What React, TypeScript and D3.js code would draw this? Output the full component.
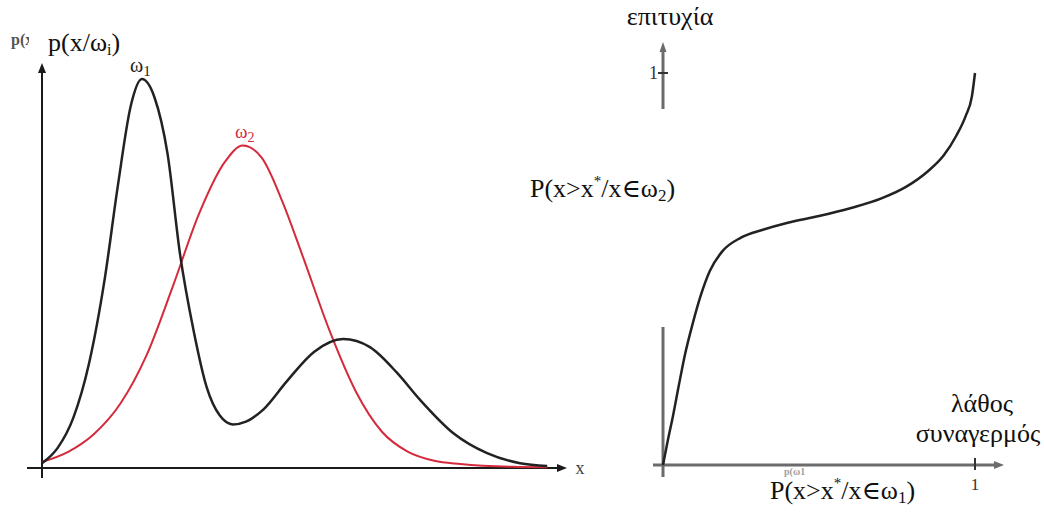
import React from "react";
import * as d3 from "d3";

// Class-conditional densities p(x/ω1) and p(x/ω2), sampled along x (0..10)
const omega1X = [0, 0.3, 0.6, 0.9, 1.2, 1.45, 1.7, 1.91, 2.15, 2.4, 2.64, 2.9, 3.15, 3.4, 3.65, 3.9, 4.23, 4.68, 5.2, 5.76, 6.27, 6.79, 7.23, 7.86, 8.51, 9.14, 9.66];
const omega1Y = [0.012, 0.05, 0.125, 0.26, 0.47, 0.7, 0.9, 0.965, 0.92, 0.78, 0.53, 0.34, 0.2, 0.13, 0.108, 0.115, 0.145, 0.215, 0.288, 0.32, 0.3, 0.236, 0.169, 0.087, 0.037, 0.012, 0.005];

const omega2X = [0, 0.5, 1, 1.5, 2, 2.5, 3, 3.5, 3.84, 4.2, 4.6, 5, 5.5, 6, 6.5, 7, 7.5, 8, 9, 9.66];
const omega2Y = [0.015, 0.04, 0.085, 0.16, 0.28, 0.45, 0.63, 0.76, 0.8, 0.77, 0.66, 0.52, 0.34, 0.19, 0.09, 0.04, 0.018, 0.01, 0.003, 0.002];

// ROC curve: false alarm rate vs hit rate
const rocFalseAlarm = [0, 0.016, 0.032, 0.05, 0.07, 0.095, 0.12, 0.15, 0.19, 0.25, 0.32, 0.4, 0.5, 0.6, 0.7, 0.78, 0.85, 0.9, 0.94, 0.97, 0.99, 1];
const rocHit = [0, 0.065, 0.125, 0.2, 0.28, 0.36, 0.43, 0.495, 0.545, 0.58, 0.6, 0.618, 0.635, 0.655, 0.68, 0.71, 0.75, 0.79, 0.84, 0.89, 0.94, 1];

const rocTicks = [1];

const SERIF = "'Liberation Serif', 'DejaVu Serif', serif";

export default function App() {
  // Left panel scales
  const xL = d3.scaleLinear().domain([0, 10]).range([42, 565]);
  const yL = d3.scaleLinear().domain([0, 1]).range([468, 65]);
  // Right panel scales
  const xR = d3.scaleLinear().domain([0, 1]).range([663, 975]);
  const yR = d3.scaleLinear().domain([0, 1]).range([465, 73]);

  const lineL = d3
    .line<[number, number]>()
    .x((d) => xL(d[0]))
    .y((d) => yL(d[1]))
    .curve(d3.curveMonotoneX);

  const lineR = d3
    .line<[number, number]>()
    .x((d) => xR(d[0]))
    .y((d) => yR(d[1]))
    .curve(d3.curveMonotoneX);

  const w1 = omega1X.map((x, i) => [x, omega1Y[i]] as [number, number]);
  const w2 = omega2X.map((x, i) => [x, omega2Y[i]] as [number, number]);
  const roc = rocFalseAlarm.map((x, i) => [x, rocHit[i]] as [number, number]);

  const axisL = "#1a1a1a";
  const axisR = "#6b6b6b";

  return (
    <svg
      width={1044}
      height={513}
      style={{ position: "fixed", left: 0, top: 0, background: "#fff" }}
      fontFamily={SERIF}
    >
      <rect x={0} y={0} width={1044} height={513} fill="#fff" />

      {/* ---------- Left panel: densities ---------- */}
      <text x={11} y={45} fontSize={16} fontWeight="bold" fill="#555">p(x/ω</text>
      <rect x={29} y={27} width={98} height={36} fill="#fff" />
      <text x={48} y={51} fontSize={26} fill="#111">
        p(x/ω<tspan fontSize={16} dy={4}>i</tspan><tspan dy={-4}>)</tspan>
      </text>

      {/* axes */}
      <line x1={xL(0)} y1={478} x2={xL(0)} y2={yL(1) + 6} stroke={axisL} strokeWidth={2} />
      <path d={`M${xL(0)},${yL(1) - 2} l-4,10 l8,0 z`} fill={axisL} />
      <line x1={27} y1={yL(0)} x2={xL(10) - 6} y2={yL(0)} stroke={axisL} strokeWidth={2} />
      <path d={`M${xL(10) + 2},${yL(0)} l-10,-4 l0,8 z`} fill={axisL} />
      <text x={580} y={474} fontSize={18} fill="#444" textAnchor="middle">x</text>

      {/* curves */}
      <path d={lineL(w2) ?? ""} fill="none" stroke="#d42a3c" strokeWidth={2} />
      <path d={lineL(w1) ?? ""} fill="none" stroke="#222" strokeWidth={2.5} />

      <text x={130} y={72} fontSize={20} fill="#222">
        ω<tspan fontSize={15} dy={4}>1</tspan>
      </text>
      <text x={235} y={138} fontSize={19} fill="#d42a3c">
        ω<tspan fontSize={14} dy={4}>2</tspan>
      </text>

      {/* ---------- Right panel: ROC ---------- */}
      <text x={670} y={25} fontSize={26} fill="#111" textAnchor="middle">επιτυχία</text>

      {/* upper y-axis fragment with tick at 1 */}
      <line x1={xR(0)} y1={109} x2={xR(0)} y2={50} stroke={axisR} strokeWidth={3} />
      <path d={`M${xR(0)},${42} l-3.5,10 l7,0 z`} fill={axisR} />
      {rocTicks.map((t) => (
        <g key={`yt${t}`}>
          <line x1={xR(0) - 5} x2={xR(0) + 5} y1={yR(t)} y2={yR(t)} stroke="#333" strokeWidth={2} />
          <text x={xR(0) - 5} y={yR(t) + 6} fontSize={18} fill="#333" textAnchor="end">{t}</text>
        </g>
      ))}

      <text x={530} y={197} fontSize={26} fill="#111">
        P(x&gt;x<tspan fontSize={15} dy={-11}>*</tspan><tspan dy={11}>/x∈ω</tspan><tspan fontSize={17} dy={4}>2</tspan><tspan dy={-4}>)</tspan>
      </text>

      {/* lower y-axis fragment */}
      <line x1={xR(0)} y1={327} x2={xR(0)} y2={477} stroke={axisR} strokeWidth={3} />
      {/* x-axis */}
      <line x1={653} y1={yR(0)} x2={996} y2={yR(0)} stroke={axisR} strokeWidth={3} />
      <path d={`M${1004},${yR(0)} l-10,-4 l0,8 z`} fill={axisR} />
      {rocTicks.map((t) => (
        <g key={`xt${t}`}>
          <line x1={xR(t)} x2={xR(t)} y1={yR(0) - 7} y2={yR(0) + 5} stroke="#333" strokeWidth={2} />
          <text x={xR(t)} y={yR(0) + 25} fontSize={17} fill="#333" textAnchor="middle">{t}</text>
        </g>
      ))}

      <path d={lineR(roc) ?? ""} fill="none" stroke="#222" strokeWidth={2.5} />

      <text x={982} y={412} fontSize={26} fill="#111" textAnchor="middle">λάθος</text>
      <text x={978} y={442} fontSize={26} fill="#111" textAnchor="middle">συναγερμός</text>

      <text x={784} y={475} fontSize={10} fontWeight="bold" fill="#a0a0a0">p(ω1</text>
      <text x={770} y={499} fontSize={26} fill="#111">
        P(x&gt;x<tspan fontSize={15} dy={-11}>*</tspan><tspan dy={11}>/x∈ω</tspan><tspan fontSize={17} dy={4}>1</tspan><tspan dy={-4}>)</tspan>
      </text>
    </svg>
  );
}
